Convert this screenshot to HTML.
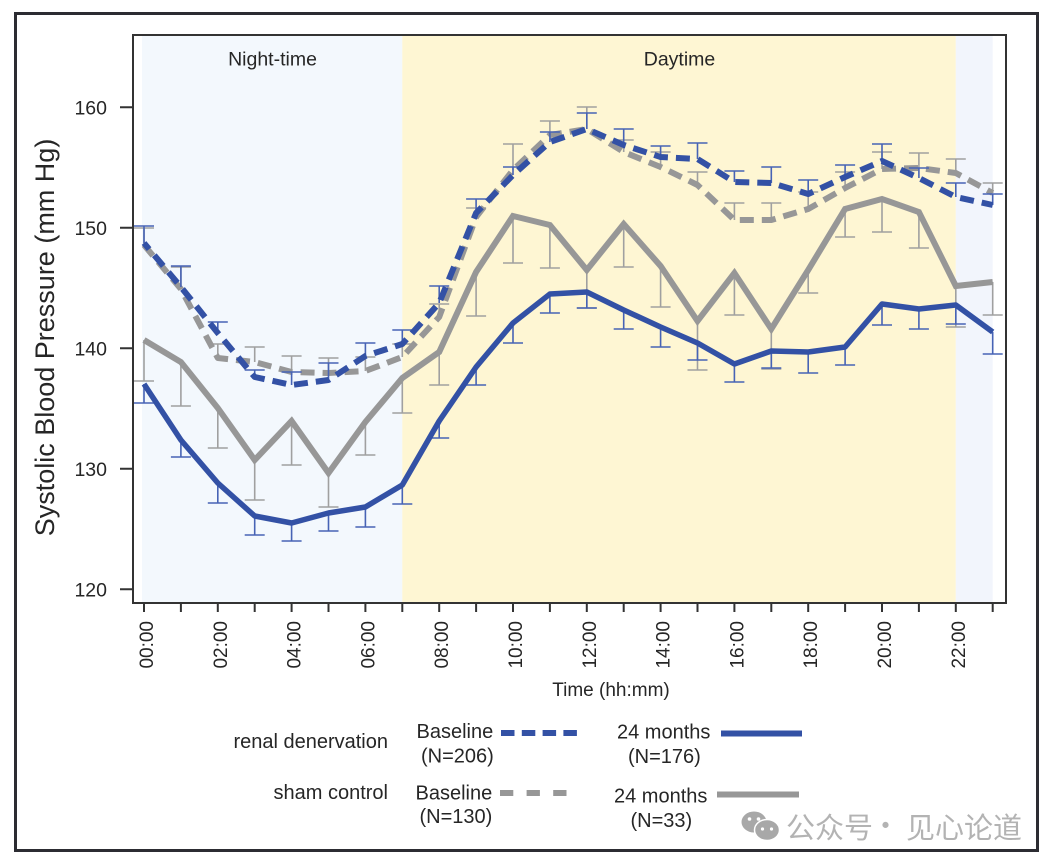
<!DOCTYPE html>
<html><head><meta charset="utf-8"><style>
html,body{margin:0;padding:0;background:#fff;}
svg{display:block;}
text{font-family:"Liberation Sans",Arial,sans-serif;fill:#262626;}
</style></head><body>
<svg width="1054" height="868" viewBox="0 0 1054 868" xmlns="http://www.w3.org/2000/svg">
<rect x="0" y="0" width="1054" height="868" fill="#fff"/>
<rect x="15.5" y="13.5" width="1022" height="837" fill="#fff" stroke="#2c2c32" stroke-width="3"/>
<!-- backgrounds -->
<rect x="142" y="36" width="260.3" height="566" fill="#f3f8fd"/>
<rect x="402.3" y="36" width="553.5" height="566" fill="#fef6d3"/>
<rect x="955.8" y="36" width="36.9" height="566" fill="#f2f5fc"/>
<!-- plot frame -->
<rect x="133" y="35" width="873" height="568" fill="none" stroke="#333" stroke-width="2"/>
<!-- y ticks -->
<g stroke="#333" stroke-width="2">
<path d="M120,107.3H132M120,227.8H132M120,348.3H132M120,468.8H132M120,589.3H132"/>
<path d="M144,604V612M180.9,604V612M217.8,604V612M254.7,604V612M291.6,604V612M328.5,604V612M365.4,604V612M402.3,604V612M439.2,604V612M476.1,604V612M513,604V612M549.9,604V612M586.8,604V612M623.7,604V612M660.6,604V612M697.5,604V612M734.4,604V612M771.3,604V612M808.2,604V612M845.1,604V612M882,604V612M918.9,604V612M955.8,604V612M992.7,604V612"/>
</g>
<g font-size="19.5" text-anchor="end">
<text x="107" y="114.5">160</text>
<text x="107" y="235">150</text>
<text x="107" y="355.5">140</text>
<text x="107" y="476">130</text>
<text x="107" y="596.5">120</text>
</g>
<g font-size="19" text-anchor="end">
<text transform="translate(153,621) rotate(-90)">00:00</text>
<text transform="translate(226.8,621) rotate(-90)">02:00</text>
<text transform="translate(300.6,621) rotate(-90)">04:00</text>
<text transform="translate(374.4,621) rotate(-90)">06:00</text>
<text transform="translate(448.2,621) rotate(-90)">08:00</text>
<text transform="translate(522,621) rotate(-90)">10:00</text>
<text transform="translate(595.8,621) rotate(-90)">12:00</text>
<text transform="translate(669.6,621) rotate(-90)">14:00</text>
<text transform="translate(743.4,621) rotate(-90)">16:00</text>
<text transform="translate(817.2,621) rotate(-90)">18:00</text>
<text transform="translate(891,621) rotate(-90)">20:00</text>
<text transform="translate(964.8,621) rotate(-90)">22:00</text>
</g>
<text x="611" y="696" font-size="19" text-anchor="middle">Time (hh:mm)</text>
<text transform="translate(54,337.5) rotate(-90)" font-size="27" text-anchor="middle">Systolic Blood Pressure (mm Hg)</text>
<text x="272.5" y="65.5" font-size="19.5" text-anchor="middle">Night-time</text>
<text x="679.5" y="65.5" font-size="19.5" text-anchor="middle">Daytime</text>

<!-- gray dashed (sham baseline) -->
<path fill="none" stroke="#a0a0a0" stroke-width="1.6" d="M144,245V228M134,228H154M180.9,289V267M170.9,267H190.9M217.8,358V344M207.8,344H227.8M254.7,362V347M244.7,347H264.7M291.6,372V356M281.6,356H301.6M328.5,373V358M318.5,358H338.5M365.4,371V357M355.4,357H375.4M402.3,357V344M392.3,344H412.3M439.2,317V304M429.2,304H449.2M476.1,217V208M466.1,208H486.1M513,170V144M503,144H523M549.9,135V121M539.9,121H559.9M586.8,129V107M576.8,107H596.8M623.7,152V140M613.7,140H633.7M660.6,167V152M650.6,152H670.6M697.5,185V172M687.5,172H707.5M734.4,220V203M724.4,203H744.4M771.3,220V203M761.3,203H781.3M808.2,209V192M798.2,192H818.2M845.1,188V172M835.1,172H855.1M882,169V152M872,152H892M918.9,168V153M908.9,153H928.9M955.8,173V159M945.8,159H965.8M992.7,193V183M982.7,183H1002.7"/>
<polyline fill="none" stroke="#979797" stroke-width="6" stroke-dasharray="14 8" stroke-linejoin="round" points="144,245 180.9,289 217.8,358 254.7,362 291.6,372 328.5,373 365.4,371 402.3,357 439.2,317 476.1,217 513,170 549.9,135 586.8,129 623.7,152 660.6,167 697.5,185 734.4,220 771.3,220 808.2,209 845.1,188 882,169 918.9,168 955.8,173 992.7,193"/>

<!-- blue dashed (RDN baseline) -->
<path fill="none" stroke="#4763b5" stroke-width="1.6" d="M144,243V226M134,226H154M180.9,287V266M170.9,266H190.9M217.8,333V322M207.8,322H227.8M254.7,377V370M244.7,370H264.7M291.6,385V372M281.6,372H301.6M328.5,380V363M318.5,363H338.5M365.4,356V343M355.4,343H375.4M402.3,344V330M392.3,330H412.3M439.2,303V286M429.2,286H449.2M476.1,213V199M466.1,199H486.1M513,175V167M503,167H523M549.9,142V132M539.9,132H559.9M586.8,129V113M576.8,113H596.8M623.7,145V129M613.7,129H633.7M660.6,157V146M650.6,146H670.6M697.5,159V143M687.5,143H707.5M734.4,182V171M724.4,171H744.4M771.3,183V167M761.3,167H781.3M808.2,194V180M798.2,180H818.2M845.1,177V165M835.1,165H855.1M882,161V144M872,144H892M918.9,178V168M908.9,168H928.9M955.8,197V183M945.8,183H965.8M992.7,205V194M982.7,194H1002.7"/>
<polyline fill="none" stroke="#3351a5" stroke-width="6" stroke-dasharray="14 8" stroke-dashoffset="6" stroke-linejoin="round" points="144,243 180.9,287 217.8,333 254.7,377 291.6,385 328.5,380 365.4,356 402.3,344 439.2,303 476.1,213 513,175 549.9,142 586.8,129 623.7,145 660.6,157 697.5,159 734.4,182 771.3,183 808.2,194 845.1,177 882,161 918.9,178 955.8,197 992.7,205"/>

<!-- gray solid (sham 24 months) -->
<path fill="none" stroke="#a0a0a0" stroke-width="1.6" d="M144,340V381M134,381H154M180.9,362V406M170.9,406H190.9M217.8,408V448M207.8,448H227.8M254.7,460V500M244.7,500H264.7M291.6,421V465M281.6,465H301.6M328.5,473V507M318.5,507H338.5M365.4,422V455M355.4,455H375.4M402.3,378V413M392.3,413H412.3M439.2,352V385M429.2,385H449.2M476.1,272V316M466.1,316H486.1M513,216V263M503,263H523M549.9,225V268M539.9,268H559.9M586.8,270V308M576.8,308H596.8M623.7,224V267M613.7,267H633.7M660.6,266V307M650.6,307H670.6M697.5,321V370M687.5,370H707.5M734.4,273V315M724.4,315H744.4M771.3,329V369M761.3,369H781.3M808.2,270V293M798.2,293H818.2M845.1,209V237M835.1,237H855.1M882,199V232M872,232H892M918.9,212V248M908.9,248H928.9M955.8,286V327M945.8,327H965.8M992.7,282V315M982.7,315H1002.7"/>
<polyline fill="none" stroke="#979797" stroke-width="6" stroke-linejoin="miter" points="144,340 180.9,362 217.8,408 254.7,460 291.6,421 328.5,473 365.4,422 402.3,378 439.2,352 476.1,272 513,216 549.9,225 586.8,270 623.7,224 660.6,266 697.5,321 734.4,273 771.3,329 808.2,270 845.1,209 882,199 918.9,212 955.8,286 992.7,282"/>

<!-- blue solid (RDN 24 months) -->
<path fill="none" stroke="#4763b5" stroke-width="1.6" d="M144,384V403M134,403H154M180.9,440V457M170.9,457H190.9M217.8,483V503M207.8,503H227.8M254.7,516V535M244.7,535H264.7M291.6,523V541M281.6,541H301.6M328.5,513V531M318.5,531H338.5M365.4,507V527M355.4,527H375.4M402.3,485V504M392.3,504H412.3M439.2,421V438M429.2,438H449.2M476.1,367V385M466.1,385H486.1M513,323V343M503,343H523M549.9,294V313M539.9,313H559.9M586.8,292V308M576.8,308H596.8M623.7,310V329M613.7,329H633.7M660.6,327V347M650.6,347H670.6M697.5,343V360M687.5,360H707.5M734.4,364V382M724.4,382H744.4M771.3,351V368M761.3,368H781.3M808.2,352V373M798.2,373H818.2M845.1,347V365M835.1,365H855.1M882,304V325M872,325H892M918.9,309V329M908.9,329H928.9M955.8,305V324M945.8,324H965.8M992.7,332V354M982.7,354H1002.7"/>
<polyline fill="none" stroke="#3351a5" stroke-width="5.5" stroke-linejoin="round" points="144,384 180.9,440 217.8,483 254.7,516 291.6,523 328.5,513 365.4,507 402.3,485 439.2,421 476.1,367 513,323 549.9,294 586.8,292 623.7,310 660.6,327 697.5,343 734.4,364 771.3,351 808.2,352 845.1,347 882,304 918.9,309 955.8,305 992.7,332"/>

<!-- legend -->
<g font-size="20">
<text x="388" y="748" text-anchor="end">renal denervation</text>
<text x="388" y="799" text-anchor="end">sham control</text>
<text x="416.5" y="738">Baseline</text>
<text x="421" y="762.5">(N=206)</text>
<text x="415.5" y="799.5">Baseline</text>
<text x="419.5" y="823">(N=130)</text>
<text x="617" y="738.5">24 months</text>
<text x="628" y="763">(N=176)</text>
<text x="614" y="802.5">24 months</text>
<text x="630.5" y="827">(N=33)</text>
</g>
<line x1="501" y1="733" x2="577" y2="733" stroke="#3351a5" stroke-width="6" stroke-dasharray="13.5 7.3"/>
<line x1="500" y1="793" x2="567" y2="793" stroke="#979797" stroke-width="6" stroke-dasharray="13.3 13.3"/>
<line x1="721" y1="733.5" x2="802" y2="733.5" stroke="#3351a5" stroke-width="6"/>
<line x1="717" y1="794.5" x2="799" y2="794.5" stroke="#979797" stroke-width="6"/>

<!-- watermark -->
<g>
<ellipse cx="754" cy="822" rx="12.5" ry="10.5" fill="#a8a8a8"/>
<circle cx="749.5" cy="819" r="1.8" fill="#fff"/>
<circle cx="758.5" cy="819" r="1.8" fill="#fff"/>
<ellipse cx="767" cy="830" rx="12.5" ry="10.5" fill="#a8a8a8" stroke="#fff" stroke-width="1.5"/>
<circle cx="762.5" cy="829" r="1.6" fill="#fff"/>
<circle cx="771.5" cy="829" r="1.6" fill="#fff"/>
</g>
<g font-family="'Noto Sans CJK SC','WenQuanYi Zen Hei',sans-serif" font-size="29" style="fill:#b3b3b3">
<text x="786" y="838" style="font-family:'Noto Sans CJK SC','WenQuanYi Zen Hei',sans-serif;fill:#b3b3b3">公众号</text>
<text x="885.5" y="836" text-anchor="middle" style="font-family:'Noto Sans CJK SC','WenQuanYi Zen Hei',sans-serif;fill:#b3b3b3">·</text>
<text x="906" y="838" style="font-family:'Noto Sans CJK SC','WenQuanYi Zen Hei',sans-serif;fill:#b3b3b3">见心论道</text>
</g>
</svg>
</body></html>
